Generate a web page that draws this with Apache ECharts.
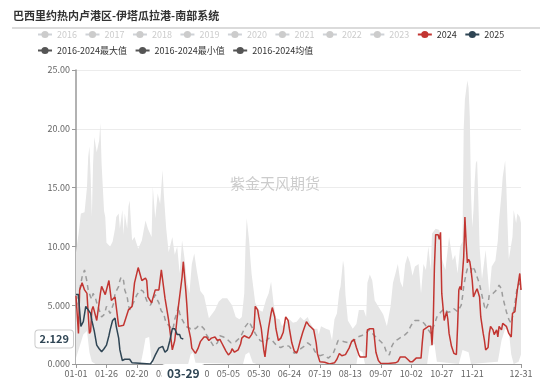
<!DOCTYPE html>
<html>
<head>
<meta charset="utf-8">
<script src="https://cdn.jsdelivr.net/npm/echarts@6/dist/echarts.min.js"></script>
<style>html,body{margin:0;padding:0;background:#fff}#c{width:550px;height:382px}</style>
</head>
<body>
<div id="c"></div>
<script>
// ---- data ----
const monthDays = [31,29,31,30,31,30,31,31,30,31,30,31];
const categories = [];
monthDays.forEach((n, m) => { for (let d = 1; d <= n; d++) categories.push(String(m+1).padStart(2,'0') + '-' + String(d).padStart(2,'0')); });

const yearsRow = ['2016','2017','2018','2019','2020','2021','2022','2023','2024','2025'];
const statNames = ['2016-2024最大值','2016-2024最小值','2016-2024均值'];
const hiddenYears = ['2016','2017','2018','2019','2020','2021','2022','2023'];

// [day index, value]
const s2025 = [[0,5.9],[2,5.9],[3,4.5],[4,3.2],[6,3.6],[8,4.9],[10,4.6],[12,4.3],[13,3.7],[15,2.8],[17,1.6],[19,1.3],[21,1.05],[23,1.3],[25,1.6],[27,2.4],[28,2.9],[30,3.7],[32,3.9],[33,3.2],[35,2.2],[36,1.2],[38,0.3],[40,0.4],[44,0.4],[46,0.1],[47,0],[61,0],[63,0.3],[65,0.75],[68,1.35],[71,1.5],[73,1.0],[75,1.2],[77,2.0],[79,3.0],[81,3.0],[83,2.5],[85,2.5],[86,2.2],[88,2.129]];

const s2024 = [[0,5.8],[2,2.6],[3,6.3],[5,6.9],[7,6.3],[9,6.0],[10,4.3],[11,2.6],[12,2.8],[13,4.6],[14,4.9],[17,3.7],[20,6.0],[21,6.6],[22,6.6],[24,5.9],[27,7.1],[29,5.4],[32,5.7],[35,3.2],[39,3.3],[43,4.6],[46,4.9],[48,6.9],[51,8.2],[54,7.1],[57,7.3],[58,7.1],[59,5.7],[62,5.2],[65,6.3],[68,6.3],[70,8.0],[73,5.6],[76,3.7],[79,1.2],[81,2.0],[84,4.9],[87,7.4],[88,8.7],[90,6.3],[91,4.9],[92,3.2],[94,2.2],[95,1.35],[98,0.9],[100,1.3],[102,1.9],[105,2.3],[107,2.3],[109,2.0],[111,2.2],[114,2.3],[116,2.0],[118,2.1],[120,1.7],[121,1.5],[123,1.1],[125,0.77],[127,1.0],[128,1.3],[130,1.0],[133,1.2],[135,1.7],[136,2.2],[138,2.4],[140,2.3],[142,2.2],[144,2.5],[146,3.0],[147,4.9],[149,4.6],[150,4.0],[152,3.0],[154,1.2],[155,0.6],[156,1.5],[158,3.1],[160,4.3],[161,4.8],[163,4.0],[164,3.0],[166,2.0],[168,2.2],[170,2.7],[171,3.4],[172,4.0],[174,3.7],[175,3.0],[177,1.8],[179,1.1],[181,0.93],[182,1.2],[184,2.0],[186,2.7],[188,3.3],[189,3.6],[191,3.3],[193,3.1],[195,2.9],[197,1.8],[198,0.9],[200,0.2],[204,0.15],[208,0],[212,0.1],[214,0.4],[216,0.9],[218,0.7],[221,0.8],[224,1.35],[226,1.9],[228,2.1],[230,1.4],[232,0.8],[233,0.6],[238,0.6],[239,2.9],[241,3.0],[244,3.0],[245,2.0],[246,1.0],[248,0.3],[250,0.05],[256,0.05],[262,0.1],[264,0.2],[266,0.6],[270,0.6],[272,0.4],[274,0.2],[276,0.2],[279,0.5],[283,0.5],[284,1.8],[285,2.9],[289,3.2],[291,3.2],[292,1.6],[293,3.5],[294,8.3],[295,11.0],[297,11.0],[298,10.6],[299,11.2],[300,6.0],[302,3.7],[304,4.45],[305,3.8],[306,2.6],[308,1.5],[310,0.9],[312,0.8],[313,3.2],[314,6.3],[315,6.6],[316,6.3],[317,7.7],[318,9.1],[319,12.5],[320,10.3],[321,8.6],[322,8.9],[323,8.7],[324,8.0],[325,7.1],[326,5.7],[328,6.2],[329,6.4],[331,5.7],[332,4.0],[334,2.6],[335,2.0],[336,1.2],[338,1.4],[339,2.6],[340,3.2],[342,2.9],[343,2.5],[345,2.9],[346,2.3],[347,3.2],[349,2.9],[350,3.45],[353,3.2],[355,2.6],[357,2.3],[358,4.3],[360,4.45],[361,5.4],[362,6.3],[364,7.7],[365,6.3]];

const sMean = [[0,4.8],[3,6.3],[5,7.4],[7,8.0],[9,7.0],[10,6.3],[12,5.7],[13,5.5],[14,6.0],[16,5.6],[17,5.2],[18,4.9],[20,4.3],[21,4.0],[23,4.2],[24,4.5],[25,4.9],[26,4.8],[28,4.3],[29,4.6],[31,5.2],[32,6.0],[35,6.6],[36,7.1],[37,7.4],[39,7.1],[40,6.3],[42,5.7],[43,5.0],[44,4.6],[46,4.9],[47,5.2],[48,5.4],[50,5.9],[51,6.0],[53,6.3],[55,6.2],[58,5.4],[59,5.2],[61,5.0],[62,5.2],[64,5.6],[65,5.9],[66,5.6],[68,5.2],[69,4.8],[70,4.5],[72,4.3],[73,3.8],[74,3.5],[77,3.2],[79,2.9],[80,3.2],[81,3.8],[83,4.45],[84,4.9],[85,4.3],[87,3.8],[88,3.6],[90,3.2],[92,3.1],[94,3.0],[96,3.1],[98,3.0],[100,3.2],[102,3.3],[105,3.0],[107,2.5],[110,2.0],[113,1.5],[116,1.8],[118,2.4],[121,2.3],[124,2.1],[127,1.8],[131,1.9],[135,2.3],[139,3.2],[142,3.6],[144,3.2],[147,2.6],[151,2.0],[155,1.8],[158,2.2],[161,2.0],[165,1.5],[168,1.4],[172,1.6],[175,1.5],[179,0.9],[183,1.2],[187,1.5],[190,1.8],[194,1.5],[196,1.05],[200,0.7],[203,0.8],[207,0.5],[211,0.9],[215,2.0],[220,1.9],[224,1.8],[228,2.0],[231,2.3],[235,2.45],[238,2.6],[240,2.9],[243,2.6],[246,2.3],[249,2.0],[251,1.8],[253,1.5],[255,0.9],[257,0.77],[259,1.5],[261,1.9],[264,2.1],[267,2.3],[270,2.5],[272,2.7],[275,3.3],[278,3.7],[281,3.7],[284,3.6],[286,3.4],[289,2.9],[291,2.6],[294,3.4],[296,4.0],[299,4.4],[302,4.7],[305,4.4],[307,4.45],[310,4.7],[313,4.45],[316,5.0],[317,5.7],[318,6.6],[320,7.7],[321,8.1],[324,7.8],[325,8.3],[327,8.0],[329,7.4],[331,6.8],[332,6.3],[335,4.9],[336,4.6],[338,5.1],[339,5.9],[342,6.0],[345,6.3],[347,6.7],[349,6.4],[350,5.7],[353,4.45],[355,3.8],[357,3.45],[358,4.0],[360,5.1],[361,5.9],[362,6.6],[364,6.9],[365,6.3]];

const sMax = [[0,9.5],[2,11.0],[4,12.8],[7,12.9],[9,15.0],[10,17.6],[11,18.5],[12,16.0],[13,12.5],[14,17.0],[15,19.3],[17,18.0],[19,19.0],[20,20.5],[21,17.0],[23,13.0],[24,12.5],[25,10.3],[28,10.0],[30,10.4],[32,11.5],[33,12.5],[35,12.8],[36,11.5],[38,13.1],[39,11.0],[40,12.8],[42,11.5],[43,13.4],[44,13.9],[46,10.5],[48,10.8],[51,9.8],[54,10.5],[57,12.2],[59,11.5],[62,10.8],[63,15.1],[65,12.4],[67,14.5],[69,13.6],[71,16.5],[72,14.5],[74,11.5],[76,9.5],[79,10.8],[81,9.3],[83,10.0],[85,7.7],[87,10.5],[89,9.0],[91,7.0],[93,6.0],[95,8.5],[97,9.4],[99,8.0],[102,6.2],[105,5.8],[109,3.9],[114,4.6],[117,5.3],[120,5.6],[124,5.6],[128,5.0],[131,4.0],[134,3.8],[136,4.0],[138,6.0],[139,10.0],[140,12.4],[141,12.5],[142,10.5],[143,9.0],[144,7.7],[147,5.2],[150,4.6],[153,4.45],[156,5.5],[158,6.0],[160,7.0],[162,5.2],[164,3.9],[167,3.8],[169,3.2],[172,3.6],[175,3.8],[178,3.5],[181,3.6],[184,4.0],[187,3.7],[190,4.0],[192,3.5],[195,3.0],[198,3.0],[199,2.5],[201,3.2],[205,3.0],[208,2.9],[210,2.0],[212,3.8],[214,4.3],[216,6.2],[217,6.6],[219,8.8],[220,8.2],[221,5.9],[223,3.7],[227,3.0],[230,3.4],[232,4.6],[236,4.6],[238,4.0],[239,6.9],[241,7.6],[243,7.1],[245,5.4],[248,4.9],[252,4.2],[255,3.2],[258,4.9],[260,6.9],[262,7.7],[264,8.5],[266,7.0],[268,6.5],[270,8.5],[272,9.2],[274,8.6],[276,7.5],[278,8.3],[281,8.5],[283,6.0],[285,8.5],[287,8.0],[289,10.0],[291,8.0],[292,11.1],[295,11.5],[298,11.4],[300,9.0],[303,8.0],[306,10.8],[309,8.8],[311,9.3],[313,7.7],[315,10.0],[317,10.4],[318,20.0],[319,22.5],[321,24.1],[322,23.5],[323,21.0],[324,14.5],[325,11.6],[326,13.0],[327,15.5],[328,17.1],[329,17.3],[330,14.0],[331,10.0],[333,7.2],[336,9.7],[339,6.0],[341,8.3],[344,8.8],[346,10.5],[347,12.2],[349,14.5],[350,15.9],[352,17.3],[353,15.0],[354,11.8],[355,8.9],[358,10.8],[359,13.1],[361,12.0],[362,12.8],[364,12.5],[365,12.0]];

const sMin = [[0,0.5],[3,1.5],[6,2.5],[9,2.8],[11,1.0],[13,0.2],[16,0],[53,0],[55,1.0],[57,2.2],[60,2.3],[62,0.3],[64,0],[92,0],[94,0.8],[96,1.0],[98,0.1],[137,0],[139,0.8],[142,1.0],[145,0.1],[148,0],[230,0],[232,1.2],[235,1.0],[237,0],[288,0],[290,1.5],[294,1.7],[296,0.2],[314,0],[317,1.2],[322,1.0],[324,0],[346,0.2],[349,2.0],[352,3.0],[355,2.8],[357,0.8],[359,0],[363,0.2],[365,0.8]];

const pointerDay = 88;
const pointerValue = 2.129;

// ---- chart ----
const FONT = '"Noto Sans CJK SC", "Microsoft YaHei", sans-serif';
const chart = echarts.init(document.getElementById('c'), null, {renderer: 'canvas'});
const showIdx = i => i === 365 || (i % 25 === 0 && i !== 350);
const fmt4 = v => Number(v).toPrecision(4);

const series = [];
hiddenYears.forEach(y => series.push({name: y, type: 'line', data: [], symbol: 'none'}));
series.push({name: statNames[0], type: 'line', data: sMax, symbol: 'none', z: 1,
  lineStyle: {width: 0}, itemStyle: {color: '#e6e6e6'}, areaStyle: {color: '#e6e6e6', opacity: 1}});
series.push({name: statNames[1], type: 'line', data: sMin, symbol: 'none', z: 1,
  lineStyle: {width: 0}, itemStyle: {color: '#ffffff'}, areaStyle: {color: '#ffffff', opacity: 1}});
series.push({name: statNames[2], type: 'line', data: sMean, symbol: 'none', z: 3,
  lineStyle: {width: 1.5, type: [5, 4], color: '#9c9c9c'}, itemStyle: {color: '#9c9c9c'}});
series.push({name: '2024', type: 'line', data: s2024, symbol: 'none', z: 4,
  lineStyle: {width: 1.5, color: '#c23531'}, itemStyle: {color: '#c23531'}});
series.push({name: '2025', type: 'line', data: s2025, symbol: 'none', z: 5,
  lineStyle: {width: 1.5, color: '#2f4554'}, itemStyle: {color: '#2f4554'}});

const selected = {};
hiddenYears.forEach(y => selected[y] = false);

const legendCommon = {
  left: 37, itemWidth: 14, itemHeight: 9, itemGap: 7.5, inactiveColor: '#ccc',
  textStyle: {fontSize: 9, color: '#333', fontFamily: FONT}, selected: selected, padding: 0
};

chart.setOption({
  animation: false,
  textStyle: {fontFamily: FONT},
  title: {text: '巴西里约热内卢港区-伊塔瓜拉港-南部系统', left: 8, top: 5,
    textStyle: {fontSize: 11, fontWeight: 'bold', color: '#333', fontFamily: FONT}},
  graphic: [
    {type: 'line', shape: {x1: 12, y1: 28, x2: 540, y2: 28}, style: {stroke: '#cfcfcf', lineWidth: 1.5}, silent: true},
    {type: 'text', left: 'center', top: 176, style: {text: '紫金天风期货', fill: '#cccccc', font: '15px ' + FONT}, silent: true, z: 10}
  ],
  legend: [
    Object.assign({}, legendCommon, {top: 30, data: yearsRow}),
    Object.assign({}, legendCommon, {top: 46, data: statNames.map(n => ({name: n,
      itemStyle: {color: '#555'}, lineStyle: {color: '#555', width: 2, type: 'solid'}}))})
  ],
  grid: {left: 76, right: 29, top: 70, bottom: 18, containLabel: false},
  xAxis: {
    type: 'category', data: categories, boundaryGap: false, z: 5,
    axisLine: {lineStyle: {color: '#999', width: 1.2}},
    axisTick: {interval: showIdx, length: 4, lineStyle: {color: '#999'}},
    axisLabel: {interval: showIdx, fontSize: 9, color: '#666', margin: 5, fontFamily: FONT},
    splitLine: {show: false},
    axisPointer: {show: true, status: 'show', value: pointerDay, triggerTooltip: false,
      lineStyle: {opacity: 0},
      label: {show: true, formatter: p => (typeof p.value === 'number' ? categories[p.value] : p.value),
        backgroundColor: '#fff', color: '#2f4554', fontWeight: 'bold', fontSize: 12, padding: [3, 5], margin: 3,
        fontFamily: FONT, shadowBlur: 0}}
  },
  yAxis: {
    type: 'value', min: 0, max: 25, interval: 5,
    axisLine: {show: true, lineStyle: {color: '#999', width: 1.5}},
    axisTick: {show: true, length: 4, lineStyle: {color: '#999'}},
    axisLabel: {fontSize: 9, color: '#666', margin: 6, formatter: fmt4, fontFamily: FONT},
    splitLine: {lineStyle: {color: '#ececec'}},
    axisPointer: {show: true, status: 'show', value: pointerValue, triggerTooltip: false,
      lineStyle: {opacity: 0},
      label: {show: true, formatter: p => fmt4(p.value),
        backgroundColor: '#fff', borderColor: '#ccc', borderWidth: 1, color: '#2f4554', fontWeight: 'bold',
        fontSize: 11, padding: [3, 4], margin: 3, fontFamily: FONT, shadowBlur: 0}}
  },
  series: series
});
</script>
</body>
</html>
